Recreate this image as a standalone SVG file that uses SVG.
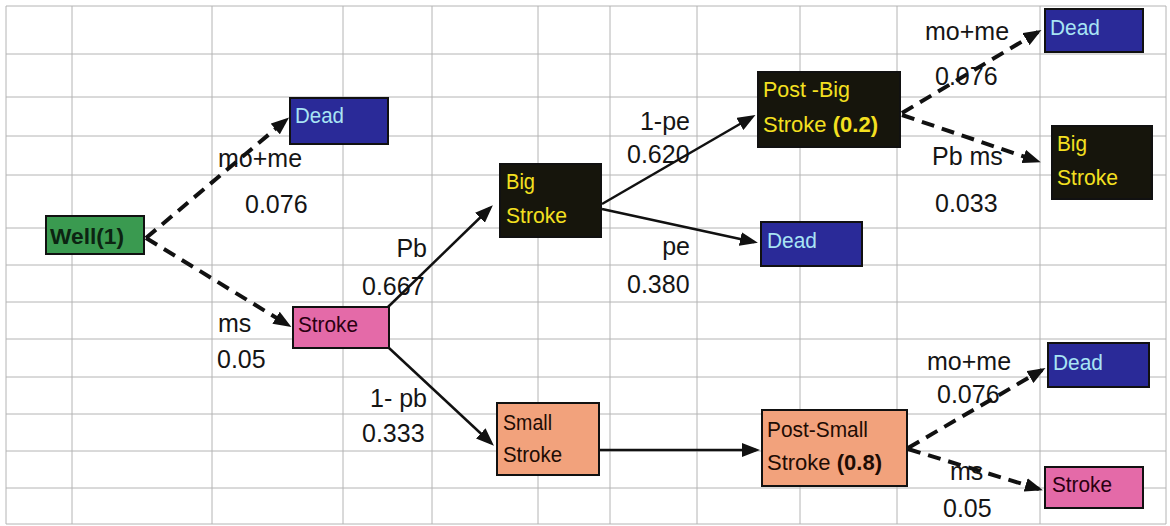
<svg xmlns="http://www.w3.org/2000/svg" width="1170" height="526" viewBox="0 0 1170 526">
  <style>
    .grid line { stroke: #b4b4b4; stroke-width: 1; }
    .node rect { stroke: #111; stroke-width: 2; }
    .ntxt { font-family: "Liberation Sans", Arial, sans-serif; font-size: 22px; }
    .lbl { font-family: "Liberation Sans", Arial, sans-serif; font-size: 25px; fill: #151515; }
    .dash { fill: none; stroke: #111; stroke-width: 4; stroke-dasharray: 13 8; marker-end: url(#ah); }
    .solid { fill: none; stroke: #111; stroke-width: 2.5; marker-end: url(#ah); }
    .blue rect { fill: #2a2a98; }
    .blue text { fill: #a8e4f4; }
    .black rect { fill: #16150c; }
    .black text { fill: #f4e020; }
    .pink rect { fill: #e46aa8; }
    .pink text { fill: #2a0010; }
    .salmon rect { fill: #f2a27c; }
    .salmon text { fill: #1e0c04; }
  </style>
  <defs>
    <marker id="ah" viewBox="0 0 18 14" refX="14" refY="7" markerWidth="18" markerHeight="14" markerUnits="userSpaceOnUse" orient="auto">
      <path d="M0,0 L18,7 L0,14 Z" fill="#111"/>
    </marker>
  </defs>
  <rect x="0" y="0" width="1170" height="526" fill="#ffffff"/>
  <g class="grid">
    <line x1="6" y1="6" x2="6" y2="524"/>
    <line x1="72" y1="6" x2="72" y2="524"/>
    <line x1="212" y1="6" x2="212" y2="524"/>
    <line x1="343" y1="6" x2="343" y2="524"/>
    <line x1="432" y1="6" x2="432" y2="524"/>
    <line x1="538" y1="6" x2="538" y2="524"/>
    <line x1="610" y1="6" x2="610" y2="524"/>
    <line x1="697" y1="6" x2="697" y2="524"/>
    <line x1="800" y1="6" x2="800" y2="524"/>
    <line x1="897" y1="6" x2="897" y2="524"/>
    <line x1="1040" y1="6" x2="1040" y2="524"/>
    <line x1="1166" y1="6" x2="1166" y2="524"/>
    <line x1="6" y1="6" x2="1166" y2="6"/>
    <line x1="6" y1="54" x2="1166" y2="54"/>
    <line x1="6" y1="97" x2="1166" y2="97"/>
    <line x1="6" y1="136" x2="1166" y2="136"/>
    <line x1="6" y1="175" x2="1166" y2="175"/>
    <line x1="6" y1="228" x2="1166" y2="228"/>
    <line x1="6" y1="265" x2="1166" y2="265"/>
    <line x1="6" y1="302" x2="1166" y2="302"/>
    <line x1="6" y1="339" x2="1166" y2="339"/>
    <line x1="6" y1="377" x2="1166" y2="377"/>
    <line x1="6" y1="414" x2="1166" y2="414"/>
    <line x1="6" y1="451" x2="1166" y2="451"/>
    <line x1="6" y1="488" x2="1166" y2="488"/>
    <line x1="6" y1="524" x2="1166" y2="524"/>
  </g>

  <g id="labels">
    <text class="lbl" x="218" y="167">mo+me</text>
    <text class="lbl" x="245" y="213">0.076</text>
    <text class="lbl" x="427" y="257" text-anchor="end">Pb</text>
    <text class="lbl" x="362" y="295">0.667</text>
    <text class="lbl" x="218" y="332">ms</text>
    <text class="lbl" x="217" y="368">0.05</text>
    <text class="lbl" x="427" y="407" text-anchor="end">1- pb</text>
    <text class="lbl" x="362" y="442">0.333</text>
    <text class="lbl" x="690" y="130" text-anchor="end">1-pe</text>
    <text class="lbl" x="627" y="163">0.620</text>
    <text class="lbl" x="690" y="255" text-anchor="end">pe</text>
    <text class="lbl" x="627" y="293">0.380</text>
    <text class="lbl" x="925" y="40">mo+me</text>
    <text class="lbl" x="935" y="85">0.076</text>
    <text class="lbl" x="932" y="165">Pb ms</text>
    <text class="lbl" x="935" y="212">0.033</text>
    <text class="lbl" x="927" y="370">mo+me</text>
    <text class="lbl" x="937" y="403">0.076</text>
    <text class="lbl" x="950" y="480">ms</text>
    <text class="lbl" x="943" y="517">0.05</text>
  </g>

  <g id="connectors">
    <path class="dash" d="M146,238 L286,120"/>
    <path class="dash" d="M146,238 L288,325"/>
    <path class="solid" d="M388,307 L490,208"/>
    <path class="solid" d="M389,348 L491,443"/>
    <path class="solid" d="M602,204 L752,117"/>
    <path class="solid" d="M602,209 L754,242"/>
    <path class="solid" d="M599,450 L756,450"/>
    <path class="dash" d="M902,113 L1038,32"/>
    <path class="dash" d="M902,115 L1037,161"/>
    <path class="dash" d="M908,448 L1042,370"/>
    <path class="dash" d="M908,449 L1039,489"/>
  </g>

  <g id="well" class="node">
    <rect x="46" y="216" width="98" height="38" fill="#3a9a50"/>
    <text class="ntxt" x="50" y="244" font-weight="bold" fill="#0c2412" textLength="74" lengthAdjust="spacingAndGlyphs">Well(1)</text>
  </g>
  <g id="dead1" class="node blue">
    <rect x="290" y="98" width="98" height="46"/>
    <text class="ntxt" x="295" y="123" textLength="49" lengthAdjust="spacingAndGlyphs">Dead</text>
  </g>
  <g id="stroke1" class="node pink">
    <rect x="293" y="307" width="96" height="41"/>
    <text class="ntxt" x="298" y="332" textLength="60" lengthAdjust="spacingAndGlyphs">Stroke</text>
  </g>
  <g id="bigstroke" class="node black">
    <rect x="500" y="164" width="101" height="73"/>
    <text class="ntxt" x="506" y="189" textLength="29" lengthAdjust="spacingAndGlyphs">Big</text>
    <text class="ntxt" x="506" y="223" textLength="61" lengthAdjust="spacingAndGlyphs">Stroke</text>
  </g>
  <g id="smallstroke" class="node salmon">
    <rect x="497" y="403" width="102" height="72"/>
    <text class="ntxt" x="503" y="430" textLength="49" lengthAdjust="spacingAndGlyphs">Small</text>
    <text class="ntxt" x="503" y="462" textLength="59" lengthAdjust="spacingAndGlyphs">Stroke</text>
  </g>
  <g id="postbig" class="node black">
    <rect x="758" y="72" width="142" height="75"/>
    <text class="ntxt" x="763" y="97" textLength="87" lengthAdjust="spacingAndGlyphs">Post -Big</text>
    <text class="ntxt" x="763" y="132" textLength="115" lengthAdjust="spacingAndGlyphs">Stroke <tspan font-weight="bold">(0.2)</tspan></text>
  </g>
  <g id="dead2" class="node blue">
    <rect x="761" y="222" width="101" height="44"/>
    <text class="ntxt" x="767" y="248" textLength="50" lengthAdjust="spacingAndGlyphs">Dead</text>
  </g>
  <g id="postsmall" class="node salmon">
    <rect x="762" y="410" width="145" height="76"/>
    <text class="ntxt" x="767" y="437" textLength="101" lengthAdjust="spacingAndGlyphs">Post-Small</text>
    <text class="ntxt" x="767" y="470" textLength="115" lengthAdjust="spacingAndGlyphs">Stroke <tspan font-weight="bold">(0.8)</tspan></text>
  </g>
  <g id="dead3" class="node blue">
    <rect x="1045" y="9" width="98" height="43"/>
    <text class="ntxt" x="1050" y="35" textLength="50" lengthAdjust="spacingAndGlyphs">Dead</text>
  </g>
  <g id="bigstroke2" class="node black">
    <rect x="1052" y="126" width="100" height="73"/>
    <text class="ntxt" x="1057" y="151" textLength="30" lengthAdjust="spacingAndGlyphs">Big</text>
    <text class="ntxt" x="1057" y="185" textLength="61" lengthAdjust="spacingAndGlyphs">Stroke</text>
  </g>
  <g id="dead4" class="node blue">
    <rect x="1048" y="343" width="101" height="44"/>
    <text class="ntxt" x="1053" y="370" textLength="50" lengthAdjust="spacingAndGlyphs">Dead</text>
  </g>
  <g id="stroke2" class="node pink">
    <rect x="1045" y="467" width="98" height="41"/>
    <text class="ntxt" x="1052" y="492" textLength="60" lengthAdjust="spacingAndGlyphs">Stroke</text>
  </g>
</svg>
